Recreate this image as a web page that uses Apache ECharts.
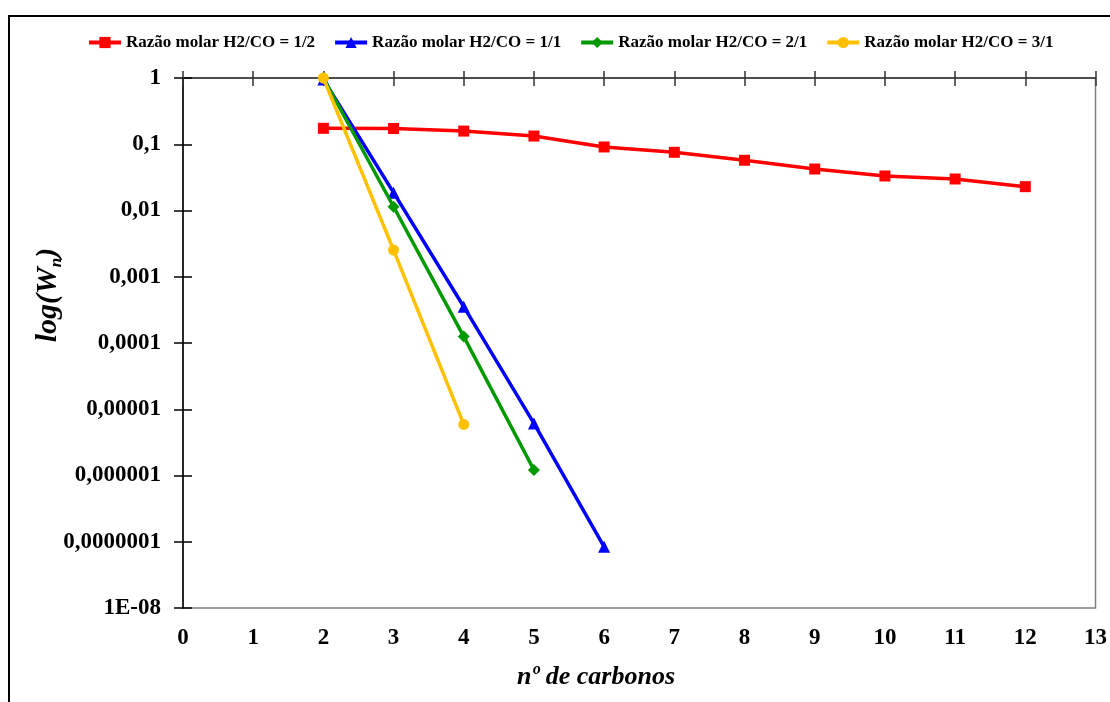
<!DOCTYPE html>
<html><head><meta charset="utf-8">
<script src="https://cdn.jsdelivr.net/npm/echarts@6/dist/echarts.min.js"></script>
<style>html,body{margin:0;padding:0;background:#fff}#c{width:1110px;height:702px}</style>
</head><body><div id="c"></div>
<script>
const seriesNames = ['Razão molar H2/CO = 1/2','Razão molar H2/CO = 1/1','Razão molar H2/CO = 2/1','Razão molar H2/CO = 3/1'];
const xRed = [2,3,4,5,6,7,8,9,10,11,12];
const yRed = [0.174,0.173,0.158,0.133,0.091,0.0756,0.0573,0.0423,0.0332,0.0299,0.0229];
const xBlue = [2,3,4,5,6];
const yBlue = [0.95,0.0186,3.53e-4,6.1e-6,8.4e-8];
const xGreen = [2,3,4,5];
const yGreen = [1,0.0114,1.25e-4,1.21e-6];
const xYellow = [2,3,4];
const yYellow = [1,2.53e-3,5.9e-6];
const yTickLabels = ['1','0,1','0,01','0,001','0,0001','0,00001','0,000001','0,0000001','1E-08'];
const xAxisTitle = 'nº de carbonos';

const serif = '"Liberation Serif","Times New Roman",serif';
const chart = echarts.init(document.getElementById('c'));
const pair = (xs, ys) => xs.map((x,i)=>[x, ys[i]]);
const colors = ['#FF0000','#0000FF','#009900','#FFC000'];
const symbols = ['rect','triangle','diamond','circle'];
const sizes = [11,12,12,11];
const datas = [pair(xRed,yRed), pair(xBlue,yBlue), pair(xGreen,yGreen), pair(xYellow,yYellow)];

const xBase = {type:'value', min:0, max:13, interval:1, splitLine:{show:false}, gridIndex:0};
const yBase = {type:'log', logBase:10, min:1e-8, max:1, splitLine:{show:false}, position:'left'};

chart.setOption({
  animation:false,
  backgroundColor:'#fff',
  grid:{left:183, top:78, right:12, bottom:94, show:true, borderColor:'#808080', borderWidth:1.5},
  legend:{
    left:82, top:29, itemWidth:32, itemHeight:14, itemGap:18,
    data:seriesNames,
    lineStyle:{width:4},
    textStyle:{fontFamily:serif, fontWeight:'bold', fontSize:17, color:'#000'}
  },
  xAxis:[
    Object.assign({}, xBase, {position:'bottom', axisLine:{show:false}, axisTick:{show:false},
      axisLabel:{fontFamily:serif, fontWeight:'bold', fontSize:23, color:'#000', margin:19}}),
    Object.assign({}, xBase, {position:'top', axisLine:{show:true, lineStyle:{color:'#333', width:1.5}},
      axisTick:{show:true, inside:true, length:8, lineStyle:{color:'#333', width:1.5}}, axisLabel:{show:false}}),
    Object.assign({}, xBase, {position:'top', axisLine:{show:false},
      axisTick:{show:true, inside:false, length:7, lineStyle:{color:'#333', width:1.5}}, axisLabel:{show:false}})
  ],
  yAxis:[
    Object.assign({}, yBase, {axisLine:{show:true, lineStyle:{color:'#000', width:1.5}},
      axisTick:{show:true, inside:false, length:9, lineStyle:{color:'#000', width:1.5}},
      axisLabel:{fontFamily:serif, fontWeight:'bold', fontSize:23, color:'#000', margin:22,
        formatter:function(v){ const e = Math.round(-Math.log10(v)); return yTickLabels[e] !== undefined ? yTickLabels[e] : ''; }}}),
    Object.assign({}, yBase, {axisLine:{show:false},
      axisTick:{show:true, inside:true, length:9, lineStyle:{color:'#000', width:1.5}}, axisLabel:{show:false}})
  ],
  graphic:[
    {type:'rect', shape:{x:9, y:16, width:1200, height:800}, style:{fill:'none', stroke:'#000', lineWidth:2}, z:-1},
    {type:'text', x:48, y:295, rotation:Math.PI/2,
      style:{text:'{a|log(W}{b|n}{a|)}', align:'center', verticalAlign:'middle',
        rich:{a:{fontFamily:serif, fontStyle:'italic', fontWeight:'bold', fontSize:30, fill:'#000'},
              b:{fontFamily:serif, fontStyle:'italic', fontWeight:'bold', fontSize:17, fill:'#000', padding:[18,0,0,0]}}}},
    {type:'text', x:596, y:677,
      style:{text:xAxisTitle, align:'center', verticalAlign:'middle', fontFamily:serif, fontStyle:'italic', fontWeight:'bold', fontSize:26, fill:'#000'}}
  ],
  series: seriesNames.map((n,i)=>({
    name:n, type:'line', xAxisIndex:0, yAxisIndex:0, data:datas[i],
    symbol:symbols[i], symbolSize:sizes[i], showSymbol:true,
    lineStyle:{color:colors[i], width:3.5}, itemStyle:{color:colors[i]},
    z:2+i
  }))
});
</script></body></html>
